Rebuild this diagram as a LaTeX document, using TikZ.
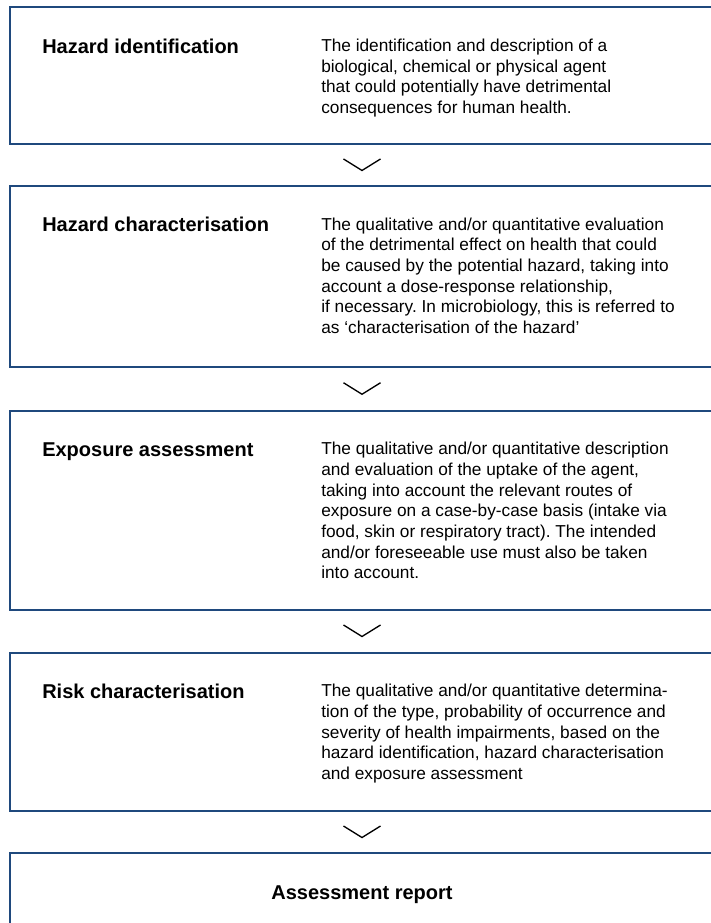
\documentclass[tikz,border=0pt]{standalone}
\usepackage{fontspec}
\setmainfont{Liberation Sans}
\frenchspacing
\usetikzlibrary{positioning, calc}
\definecolor{boxblue}{HTML}{1F497D}

\begin{document}
\begin{tikzpicture}[
        x=0.75pt, y=-0.75pt,
        stage/.style={draw=boxblue, line width=1.5pt, anchor=north west, minimum width=528pt, inner sep=0pt, outer sep=0pt},
        heading/.style={anchor=base west, inner sep=0pt, font=\fontsize{15}{18}\selectfont\bfseries},
        descr/.style={anchor=north west, inner sep=0pt, align=left, font=\fontsize{12.95}{15.5}\selectfont},
        chevron/.style={line width=1pt, line join=miter}
    ]
    \useasboundingbox (0,0) rectangle (710,923);

    % Hazard identification
    \node[stage, minimum height=102.5pt] (hazid) at (10,7.3) {};
    \node[heading] (hazidT) at ($(hazid.north west)+(32,46)$) {Hazard identification};
    \node[descr] (hazidD) at ($(hazid.north west)+(311,31.5)$) {
        The identification and description of a\\
        biological, chemical or physical agent\\
        that could potentially have detrimental\\
        consequences for human health.
    };

    % Hazard characterisation
    \node[stage, minimum height=135.75pt] (hazchar) at (10,186) {};
    \node[heading] (hazcharT) at ($(hazchar.north west)+(32,46)$) {Hazard characterisation};
    \node[descr] (hazcharD) at ($(hazchar.north west)+(311,31.5)$) {
        The qualitative and/or quantitative evaluation\\
        of the detrimental effect on health that could\\
        be caused by the potential hazard, taking into\\
        account a dose-response relationship,\\
        if necessary. In microbiology, this is referred to\\
        as ‘characterisation of the hazard’
    };

    % Exposure assessment
    \node[stage, minimum height=149.25pt] (expo) at (10,410.5) {};
    \node[heading] (expoT) at ($(expo.north west)+(32,46)$) {Exposure assessment};
    \node[descr] (expoD) at ($(expo.north west)+(311,31.5)$) {
        The qualitative and/or quantitative description\\
        and evaluation of the uptake of the agent,\\
        taking into account the relevant routes of\\
        exposure on a case-by-case basis (intake via\\
        food, skin or respiratory tract). The intended\\
        and/or foreseeable use must also be taken\\
        into account.
    };

    % Risk characterisation
    \node[stage, minimum height=118.9pt] (riskchar) at (10,652.5) {};
    \node[heading] (riskcharT) at ($(riskchar.north west)+(32,46)$) {Risk characterisation};
    \node[descr] (riskcharD) at ($(riskchar.north west)+(311,31.5)$) {
        The qualitative and/or quantitative determina-\\
        tion of the type, probability of occurrence and\\
        severity of health impairments, based on the\\
        hazard identification, hazard characterisation\\
        and exposure assessment
    };

    % Report
    \node[stage, minimum height=65.25pt] (report) at (10,853) {};
    \node[heading, anchor=base] (reportT) at ($(report.north)+(0,46)$) {Assessment report};

    % Chevrons between the stages
    \foreach \a/\b in {hazid/hazchar, hazchar/expo, expo/riskchar, riskchar/report} {
        \coordinate (gap-\a) at ($(\a.south)!0.5!(\b.north)$);
        \draw[chevron] ($(gap-\a)+(-18.5,-6)$) -- ($(gap-\a)+(0,5.5)$) -- ($(gap-\a)+(18.5,-6)$);
    }

\end{tikzpicture}
\end{document}
